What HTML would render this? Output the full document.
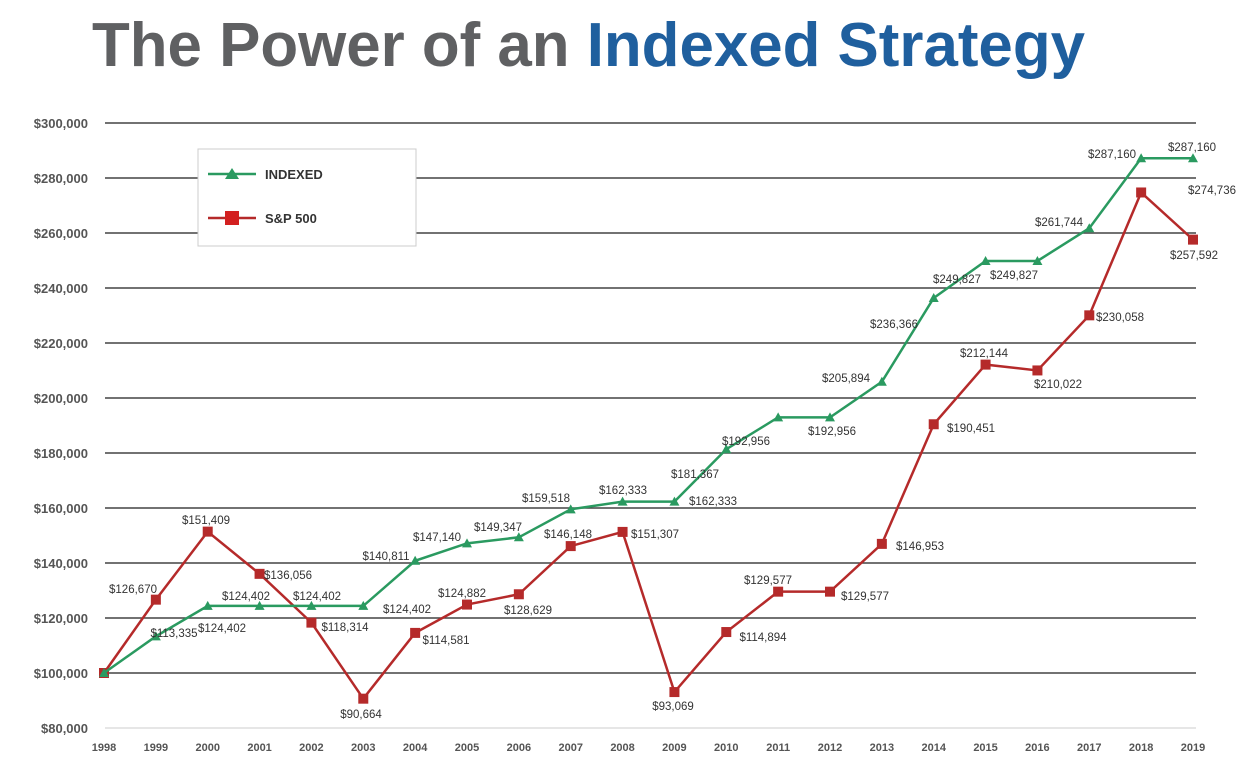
<!DOCTYPE html>
<html><head><meta charset="utf-8"><style>html,body{margin:0;padding:0;background:#fff}svg{display:block}</style></head>
<body>
<svg id="s" width="1240" height="771" xmlns="http://www.w3.org/2000/svg" font-family="Liberation Sans, sans-serif">
<rect width="1240" height="771" fill="#fff"/>
<text x="92" y="66" font-size="62" font-weight="bold" textLength="993" lengthAdjust="spacingAndGlyphs"><tspan fill="#5f6062">The Power of an </tspan><tspan fill="#1f5f9e">Indexed Strategy</tspan></text>
</svg>
<script>
var s=document.getElementById('s'),NS='http://www.w3.org/2000/svg';
function el(t,a,txt){var e=document.createElementNS(NS,t);for(var k in a)e.setAttribute(k,a[k]);if(txt!=null)e.textContent=txt;s.appendChild(e);return e;}
function Y(v){return 673-(v-100000)*55/20000;}
function X(i){return 104+i*51.857;}
for(var v=80000;v<=300000;v+=20000){
  var y=Y(v);
  el('line',{x1:105,x2:1196,y1:y,y2:y,stroke:v==80000?'#ddd':'#444','stroke-width':1.5});
  el('text',{x:88,y:y+5,'font-size':13,'font-weight':'bold',fill:'#555','text-anchor':'end'},'$'+v.toLocaleString('en-US'));
}
for(var i=0;i<22;i++)el('text',{x:X(i),y:751,'font-size':11,'font-weight':'bold',fill:'#555','text-anchor':'middle'},1998+i);
var A=[100000,113335,124402,124402,124402,124402,140811,147140,149347,159518,162333,162333,181367,192956,192956,205894,236366,249827,249827,261744,287160,287160];
var B=[100000,126670,151409,136056,118314,90664,114581,124882,128629,146148,151307,93069,114894,129577,129577,146953,190451,212144,210022,230058,274736,257592];
var LA=[null,[174,633],[222,628],[246,596],[317,596],[407,609],[386,556],[437,537],[498,527],[546,498],[623,490],[713,501],[695,474],[746,441],[832,431],[846,378],[894,324],[957,279],[1014,275],[1059,222],[1112,154],[1192,147]];
var LB=[null,[133,589],[206,520],[288,575],[345,627],[361,714],[446,640],[462,593],[528,610],[568,534],[655,534],[673,706],[763,637],[768,580],[865,596],[920,546],[971,428],[984,353],[1058,384],[1120,317],[1212,190],[1194,255]];
function series(D,L,col,tri){
  var p=D.map(function(v,i){return X(i)+','+Y(v)}).join(' ');
  el('polyline',{points:p,fill:'none',stroke:col,'stroke-width':2.5});
  D.forEach(function(v,i){var x=X(i),y=Y(v);
    if(tri)el('polygon',{points:(x-5)+','+(y+4)+' '+(x+5)+','+(y+4)+' '+x+','+(y-5),fill:col});
    else el('rect',{x:x-5,y:y-5,width:10,height:10,fill:col});
    if(L[i])el('text',{x:L[i][0],y:L[i][1]+4,'font-size':11.5,fill:'#333','text-anchor':'middle'},'$'+v.toLocaleString('en-US'));
  });
}
series(B,LB,'#b52a2a',false);
series(A,LA,'#2a9a60',true);
el('rect',{x:198,y:149,width:218,height:97,fill:'#fff',stroke:'#ccc','stroke-width':1});
el('line',{x1:208,x2:256,y1:174,y2:174,stroke:'#2a9a60','stroke-width':2.5});
el('polygon',{points:'225,179 239,179 232,168',fill:'#2a9a60'});
el('text',{x:265,y:179,'font-size':13,'font-weight':'bold',fill:'#333'},'INDEXED');
el('line',{x1:208,x2:256,y1:218,y2:218,stroke:'#b52a2a','stroke-width':2.5});
el('rect',{x:225,y:211,width:14,height:14,fill:'#d32020'});
el('text',{x:265,y:223,'font-size':13,'font-weight':'bold',fill:'#333'},'S&P 500');
</script>
</body></html>
